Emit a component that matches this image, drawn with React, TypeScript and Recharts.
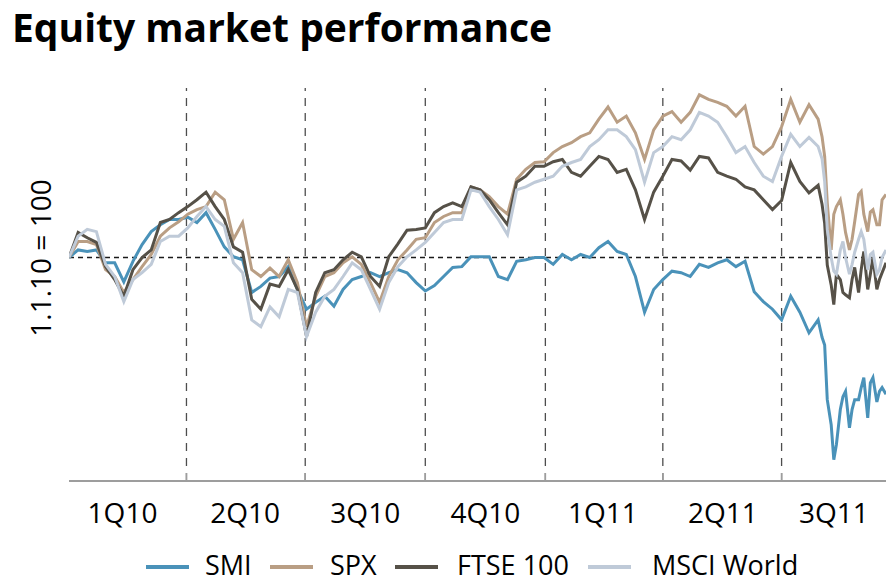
import React from 'react';
import { LineChart, Line, XAxis, YAxis, ReferenceLine } from 'recharts';

const dates = [
  '2010-01-01','2010-01-08','2010-01-15','2010-01-22','2010-01-29','2010-02-05','2010-02-12','2010-02-19','2010-02-26','2010-03-05',
  '2010-03-12','2010-03-19','2010-03-26','2010-04-02','2010-04-09','2010-04-16','2010-04-23','2010-04-30','2010-05-07','2010-05-14',
  '2010-05-21','2010-05-28','2010-06-04','2010-06-11','2010-06-18','2010-06-25','2010-07-02','2010-07-09','2010-07-16','2010-07-23',
  '2010-07-30','2010-08-06','2010-08-13','2010-08-20','2010-08-27','2010-09-03','2010-09-10','2010-09-17','2010-09-24','2010-10-01',
  '2010-10-08','2010-10-15','2010-10-22','2010-10-29','2010-11-05','2010-11-12','2010-11-19','2010-11-26','2010-12-03','2010-12-10',
  '2010-12-17','2010-12-24','2010-12-31','2011-01-07','2011-01-14','2011-01-21','2011-01-28','2011-02-04','2011-02-11','2011-02-18',
  '2011-02-25','2011-03-04','2011-03-11','2011-03-18','2011-03-25','2011-04-01','2011-04-08','2011-04-15','2011-04-22','2011-04-29',
  '2011-05-06','2011-05-13','2011-05-20','2011-05-27','2011-06-03','2011-06-10','2011-06-17','2011-06-24','2011-07-01','2011-07-08',
  '2011-07-15','2011-07-22','2011-07-29',
  '2011-08-01','2011-08-03','2011-08-05','2011-08-08','2011-08-10','2011-08-12','2011-08-15','2011-08-17','2011-08-19','2011-08-22',
  '2011-08-24','2011-08-26','2011-08-29','2011-08-31','2011-09-02','2011-09-05','2011-09-07','2011-09-09','2011-09-12','2011-09-14',
  '2011-09-16','2011-09-19',
];

const smi = [
  100, 101, 100.8, 101, 99.3, 99.3, 96.8, 99.5, 101.7, 103.4,
  104.3, 105, 105, 105.3, 104.6, 105.9, 103.7, 101.4, 100.1, 99.7,
  95.4, 96.2, 97.3, 97.5, 98.8, 95.8, 93.2, 94.1, 94.9, 93.6,
  95.8, 97.1, 97.5, 98, 97.5, 98, 98.4, 98, 96.7, 95.6,
  96.3, 97.5, 98.7, 98.8, 100.1, 100.1, 100.1, 97.5, 97.1, 99.5,
  99.7, 100, 100, 99.1, 100.4, 99.7, 100.4, 100, 101.3, 102.1,
  100.8, 100.4, 97.5, 92.8, 95.8, 97.1, 98.2, 98, 97.5, 99.1,
  98.7, 99.3, 99.7, 98.8, 99.5, 95.5, 94.2, 93.2, 91.8, 94.9,
  92.8, 90.1, 91.8,
  89.5, 88.5, 81.3, 78, 73.4, 75.4, 80, 81.7, 82.4, 77.6,
  80, 81.3, 81.3, 82.9, 84.2, 78.9, 83.5, 84.2, 81, 82.4,
  82.9, 82,
];

const spx = [
  100, 102.1, 102.1, 101.7, 98.4, 97.5, 95.4, 97.1, 98.8, 100.4,
  102.8, 103.9, 104.7, 105.7, 106.3, 106.7, 108.6, 107.6, 102.4, 104.6,
  98.4, 97.5, 98.6, 97.5, 99.7, 96.7, 90.9, 94.9, 97.5, 98,
  99.3, 100.1, 99.1, 96.7, 94.1, 97.5, 99.7, 101, 102.4, 102.6,
  104.6, 105.4, 105.9, 105.9, 109.3, 108.9, 108, 106.7, 105.7, 110.3,
  111.6, 112.5, 112.6, 113.8, 114.6, 115.1, 115.9, 116.4, 118.2, 119.8,
  117.8, 118.6, 116.4, 112.9, 116.8, 118.6, 119.2, 117.8, 119.1, 121.4,
  120.8, 120.4, 119.9, 118.6, 119.9, 114.6, 113.6, 114.6, 117.2, 120.8,
  117.8, 120.1, 118.2,
  115.9, 113.3, 107.2, 101, 105.7, 106.7, 107.6, 105.7, 103.3, 101,
  102.4, 104.7, 108.3, 108.7, 105.7, 103.4, 106, 106.3, 104.3, 104.3,
  107.6, 108.3,
];

const ftse = [
  100, 103.3, 102.6, 102, 98.8, 97.1, 94.9, 98.4, 100, 101,
  104.6, 105, 105.9, 106.7, 107.6, 108.6, 106.7, 105, 101.4, 100.7,
  94.5, 93.2, 96.5, 96.2, 98.4, 95.8, 89.6, 95.4, 98, 98.4,
  99.7, 100.7, 100.1, 97.5, 96.2, 100.1, 101.8, 103.6, 103.7, 103.9,
  105.9, 106.7, 107.2, 106.7, 109.3, 108.9, 107.6, 105.9, 104.3, 109.9,
  110.7, 112, 112, 112.6, 112.9, 111.2, 110.7, 112, 113.3, 112.9,
  111.2, 111.6, 108.9, 105, 108.6, 110.7, 112.9, 112.7, 111.5, 113.3,
  113.1, 111.2, 110.7, 110.3, 109.3, 108.9, 107.6, 106.3, 107.5, 112.5,
  110, 108.5, 109.5,
  107, 104.5, 99, 96.4, 93.8, 97.8, 97.1, 95.4, 95.1, 94.7,
  97.1, 98.7, 95.4, 98.4, 100.8, 95.8, 97.8, 100, 95.8, 97.1,
  98, 99.3,
];

const msci = [
  100, 102.8, 103.7, 103.4, 99.1, 97.5, 94.2, 97.1, 98, 99.1,
  102.1, 102.8, 102.8, 103.9, 105.4, 106.7, 105, 104.1, 99.3, 98,
  91.8, 90.9, 93.5, 92.2, 95.8, 95.4, 89.6, 92.8, 94.9, 95.8,
  97.5, 99.3, 98.4, 95.8, 93.2, 96.7, 98.8, 100.1, 101, 102,
  103.3, 104.6, 105, 105, 108.9, 108.6, 106.7, 105, 103, 108.9,
  109.3, 109.9, 110.3, 110.7, 112, 112.5, 112.9, 114.6, 115.5, 116.8,
  116.8, 115.9, 114.2, 109.9, 113.8, 114.6, 115.9, 115.5, 116.8, 119.1,
  118.6, 117.8, 115.9, 113.8, 114.6, 112.5, 110.7, 110, 113.3, 116.2,
  114.6, 115.8, 114.6,
  113, 110, 103.7, 100, 98.2, 97.8, 101, 102.1, 100, 97.8,
  99.1, 100.7, 102.4, 103.4, 102.4, 98.4, 100.4, 100.7, 97.8, 98.4,
  100, 101,
];

const quarterStarts = ['2010-04-01', '2010-07-01', '2010-10-01', '2011-01-01', '2011-04-01', '2011-07-01'];
const quarterLabels = ['1Q10', '2Q10', '3Q10', '4Q10', '1Q11', '2Q11', '3Q11'];
const quarterLabelDates = ['2010-02-11', '2010-05-16', '2010-08-16', '2010-11-16', '2011-02-14', '2011-05-17', '2011-08-10'];
const xStart = '2010-01-01';
const xEnd = '2011-09-19';
const yMin = 70.6;
const yMax = 122.3;
const baseValue = 100;
const tickMarkLength = 1.05;

const series = [
  { key: 'smi', name: 'SMI', color: '#4a92b9', values: smi },
  { key: 'spx', name: 'SPX', color: '#b99e84', values: spx },
  { key: 'ftse', name: 'FTSE 100', color: '#565148', values: ftse },
  { key: 'msci', name: 'MSCI World', color: '#bfcad8', values: msci },
];

// legend layout (pixel positions of swatch and label for each entry)
const legendSwatchLeft = [146, 270, 395, 588];
const legendTextLeft = [205, 330, 457, 652];

const data = dates.map((d, i) => {
  const row: Record<string, number> = { t: Date.parse(d) };
  series.forEach((s) => { row[s.key] = s.values[i]; });
  return row;
});

const labelTicks = quarterLabelDates.map((d) => Date.parse(d));
const FONT = '"Open Sans", "Noto Sans", sans-serif';

export default function App() {
  return (
    <div style={{ position: 'absolute', left: 0, top: 0, width: 886, height: 583, background: '#fff', fontFamily: FONT, overflow: 'hidden' }}>
      <div style={{ position: 'absolute', left: 12, top: 0, fontSize: 39, fontWeight: 700, color: '#000', lineHeight: '54px', whiteSpace: 'nowrap' }}>
        Equity market performance
      </div>
      <div style={{ position: 'absolute', left: 40, top: 258, transform: 'translate(-50%, -50%) rotate(-90deg)', fontSize: 28, color: '#000', whiteSpace: 'nowrap', lineHeight: '30px' }}>
        1.1.10 = 100
      </div>
      <LineChart width={886} height={583} data={data} margin={{ top: 88, right: 0, bottom: 42, left: 69 }} style={{ position: 'absolute', left: 0, top: 0 }}>
        <XAxis
          dataKey="t"
          type="number"
          scale="time"
          domain={[Date.parse(xStart), Date.parse(xEnd)]}
          ticks={labelTicks}
          tickFormatter={(v: number) => quarterLabels[labelTicks.indexOf(v)] ?? ''}
          tickLine={false}
          axisLine={{ stroke: '#9d9d9d', strokeWidth: 2 }}
          tick={{ fontSize: 28, fill: '#000', fontFamily: FONT }}
          tickMargin={16}
          height={60}
          interval={0}
          allowDataOverflow
        />
        <YAxis
          type="number"
          domain={[yMin, yMax]}
          width={0}
          tick={false}
          tickLine={false}
          axisLine={{ stroke: '#9d9d9d', strokeWidth: 2 }}
          allowDataOverflow
        />
        {quarterStarts.map((q) => (
          <ReferenceLine key={'v' + q} x={Date.parse(q)} stroke="#4d4d4d" strokeWidth={1.3} strokeDasharray="8 7" />
        ))}
        {quarterStarts.map((q) => (
          <ReferenceLine key={'tk' + q} segment={[{ x: Date.parse(q), y: yMin }, { x: Date.parse(q), y: yMin + tickMarkLength }]} stroke="#9d9d9d" strokeWidth={1.5} />
        ))}
        <ReferenceLine y={baseValue} stroke="#1a1a1a" strokeWidth={1.3} strokeDasharray="5 4" />
        {series.map((s) => (
          <Line key={s.key} dataKey={s.key} name={s.name} stroke={s.color} strokeWidth={3} dot={false} activeDot={false} isAnimationActive={false} type="linear" />
        ))}
      </LineChart>
      {series.map((s, i) => (
        <React.Fragment key={'lg' + s.key}>
          <div style={{ position: 'absolute', left: legendSwatchLeft[i], top: 565, width: 43, height: 4, background: s.color }} />
          <div style={{ position: 'absolute', left: legendTextLeft[i], top: 548, fontSize: 27, lineHeight: '34px', color: '#000', whiteSpace: 'nowrap' }}>{s.name}</div>
        </React.Fragment>
      ))}
    </div>
  );
}
